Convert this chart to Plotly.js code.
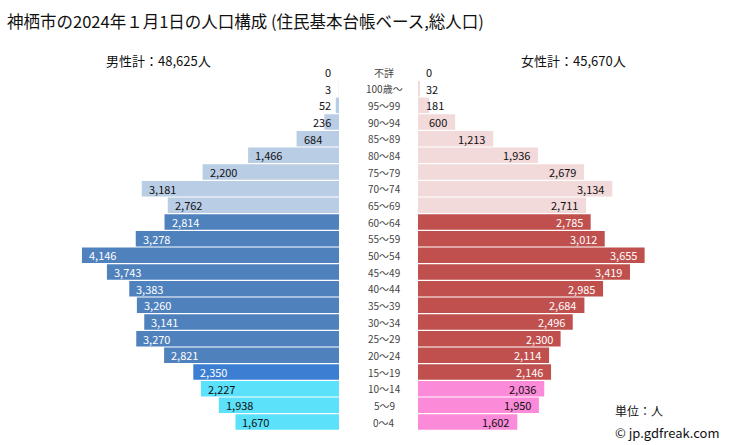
<!DOCTYPE html>
<html><head><meta charset="utf-8">
<script src="https://cdn.plot.ly/plotly-3.0.1.min.js"></script>
<style>html,body{margin:0;padding:0;background:#fff}#chart{width:729px;height:445px}</style>
</head><body><div id="chart"></div>
<script>
const ageLabels = ["不詳","100歳～","95～99","90～94","85～89","80～84","75～79","70～74","65～69","60～64","55～59","50～54","45～49","40～44","35～39","30～34","25～29","20～24","15～19","10～14","5～9","0～4"];
const maleValues = [0,3,52,236,684,1466,2200,3181,2762,2814,3278,4146,3743,3383,3260,3141,3270,2821,2350,2227,1938,1670];
const femaleValues = [0,32,181,600,1213,1936,2679,3134,2711,2785,3012,3655,3419,2985,2684,2496,2300,2114,2146,2036,1950,1602];
const maleTotal = "48,625";
const femaleTotal = "45,670";

// group of each row: 'old' (65+ & unknown), 'work' (20-64), 'teen' (15-19), 'child' (0-14)
function group(i){ if(i<=8) return 'old'; if(i<=17) return 'work'; if(i===18) return 'teen'; return 'child'; }
const maleColor = {old:'#b9cde5', work:'#4f81bd', teen:'#3c7fd2', child:'#5ce1fa'};
const femaleColor = {old:'#f2d9da', work:'#c0504d', teen:'#c0504d', child:'#fb8ad8'};
const maleText = {old:'#111', work:'#fff', teen:'#fff', child:'#111'};
const femaleText = {old:'#111', work:'#fff', teen:'#fff', child:'#111'};

const PXPER = 0.062; // pixels per person (for label fit test only)
const maleMax = 339/PXPER, femaleMax = 311/PXPER;
const fmt = v => v.toLocaleString('en-US');
const font = "'Noto Sans CJK JP', 'Open Sans', sans-serif";

const traces = [
 {type:'bar', orientation:'h', y:ageLabels, x:maleValues, xaxis:'x', yaxis:'y',
  marker:{color:maleValues.map((v,i)=>maleColor[group(i)])}, hoverinfo:'none'},
 {type:'bar', orientation:'h', y:ageLabels, x:femaleValues, xaxis:'x2', yaxis:'y',
  marker:{color:femaleValues.map((v,i)=>femaleColor[group(i)])}, hoverinfo:'none'}
];

const ann = [];
ageLabels.forEach((lab,i)=>{
  const mt = fmt(maleValues[i]), ft = fmt(femaleValues[i]);
  const mFit = maleValues[i]*PXPER >= mt.length*6.2 + 12;
  const fFit = femaleValues[i]*PXPER >= ft.length*6.2 + 12;
  ann.push({xref:'x', yref:'y', x: mFit? maleValues[i] : 0, y: lab, text: mt, showarrow:false,
    xanchor: mFit? 'left':'right', xshift: mFit? 5 : -6,
    font:{family:font, size:11, color: mFit? maleText[group(i)] : '#111'}});
  ann.push({xref:'x2', yref:'y', x: fFit? femaleValues[i] : 0, y: lab, text: ft, showarrow:false,
    xanchor: fFit? 'right':'left', xshift: fFit? -6 : 6,
    font:{family:font, size:11, color: fFit? femaleText[group(i)] : '#111'}});
  ann.push({xref:'paper', yref:'y', x: 384/729, y: lab, text: lab, showarrow:false, xanchor:'center',
    font:{family:font, size:10, color:'#444'}});
});
ann.push({xref:'paper', yref:'paper', x:158/729, y:1-61/445, text:'男性計：'+maleTotal+'人', showarrow:false, xanchor:'center', yanchor:'middle', font:{family:font,size:13,color:'#111'}});
ann.push({xref:'paper', yref:'paper', x:573/729, y:1-61/445, text:'女性計：'+femaleTotal+'人', showarrow:false, xanchor:'center', yanchor:'middle', font:{family:font,size:13,color:'#111'}});
ann.push({xref:'paper', yref:'paper', x:613/729, y:1-410/445, text:'単位：人', showarrow:false, xanchor:'left', yanchor:'middle', font:{family:font,size:12,color:'#111'}});
ann.push({xref:'paper', yref:'paper', x:613/729, y:1-432/445, text:'© jp.gdfreak.com', showarrow:false, xanchor:'left', yanchor:'middle', font:{family:font,size:13,color:'#111'}});

const n = ageLabels.length;
const spacing = 350/(n-1);
const layout = {
  width:729, height:445, margin:{l:0,r:0,t:0,b:0}, paper_bgcolor:'#fff', plot_bgcolor:'rgba(0,0,0,0)',
  showlegend:false, bargap:0.07,
  title:{text:'神栖市の2024年１月1日の人口構成 (住民基本台帳ベース,総人口)', x:7/729, xanchor:'left', y:1-22/445, yanchor:'middle',
    font:{family:font, size:16.5, color:'#111'}},
  xaxis:{domain:[0,339/729], range:[maleMax,0], visible:false, fixedrange:true},
  xaxis2:{domain:[418/729,1], range:[0,femaleMax], visible:false, fixedrange:true},
  yaxis:{type:'category', categoryarray:ageLabels, range:[(445-72)/spacing, -72/spacing], visible:false, fixedrange:true},
  annotations:ann
};
Plotly.newPlot('chart', traces, layout, {staticPlot:true});
</script></body></html>
